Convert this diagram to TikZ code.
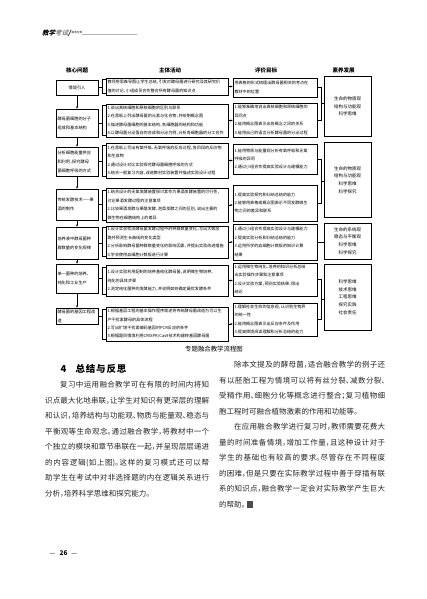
\documentclass[tikz,border=0pt]{standalone}
\usepackage{fontspec}
\usepackage{xcolor}
\setmainfont{Noto Sans CJK SC}[RawFeature=+halt]
\newfontfamily\slantfont{Noto Sans CJK SC}[FakeSlant=0.25]
\usepackage{tikz}
\usetikzlibrary{arrows.meta, shadows, calc}
\XeTeXlinebreaklocale "zh"
\XeTeXlinebreakskip = 0pt plus 1pt
\newcommand\tightcjk{\XeTeXlinebreakskip=0pt\relax}
\tikzset{
    boxshadow/.style={drop shadow={shadow xshift=0.7pt, shadow yshift=-0.7pt,
                 opacity=1, fill=black!70}},
    coltitle/.style={font=\fontsize{5.5}{6}\selectfont\bfseries, inner sep=0pt},
    corebox/.style={rectangle, draw=black, line width=0.5pt, fill=white,
                 boxshadow, text width=39pt, inner sep=1.5pt, align=left,
                 font=\fontsize{4.2}{9}\selectfont\tightcjk},
    actbox/.style={rectangle, draw=black, line width=0.5pt, fill=white,
                 boxshadow, text width=119pt, inner sep=1.5pt, align=left,
                 font=\fontsize{4.1}{8.4}\selectfont\tightcjk},
    evalbox/.style={rectangle, draw=black, line width=0.5pt, fill=white,
                 boxshadow, text width=81pt, inner sep=1.5pt, align=left,
                 font=\fontsize{4.1}{8.4}\selectfont\tightcjk},
    litbox/.style={rectangle, draw=black, line width=0.5pt, fill=white,
                 boxshadow, text width=44pt, inner sep=1.5pt, align=center,
                 font=\fontsize{4.5}{7.7}\selectfont\tightcjk},
    bodytext/.style={text width=164pt, align=justify, inner sep=0pt,
                 anchor=north west, text=black!85,
                 font=\fontsize{7.5}{15.5}\selectfont},
    arr/.style={-{Stealth[length=2.4pt,width=2pt]}, line width=0.5pt},
    link/.style={line width=0.5pt},
    hdrule/.style={line width=1.5pt, draw=black!30}
}

\begin{document}
\begin{tikzpicture}[x=1pt, y=-1pt]
\fill[white] (0,0) rectangle (427,599);
\useasboundingbox (0,0) rectangle (427,599);

% ── Running head ──────────────────────────────────────────────────────
\node[anchor=west, inner sep=0pt, font=\slantfont\fontsize{6.5}{7}\selectfont\bfseries]
     at (42,33) (hdr) {教学{\color{black!45}考试}/};
\node[anchor=west, inner sep=0pt, font=\fontsize{2.6}{3}\selectfont]
     at ([xshift=0.6pt]hdr.east) (hdrsub) {高考生物};
\draw[hdrule] ([yshift=-1.5pt]hdrsub.east) -- ++(55,0);

% ── Column titles ─────────────────────────────────────────────────────
\node[coltitle] at (77,70)    (t1) {核心问题};
\node[coltitle] at (170,70)   (t2) {主体活动};
\node[coltitle] at (266,70)   (t3) {评价目标};
\node[coltitle] at (343.5,70) (t4) {素养发展};

% ── Core questions ────────────────────────────────────────────────────
\node[corebox, align=center, minimum height=15] at (77,87.5) (core1) {情境引入};
\node[corebox, minimum height=28] at (77,123)   (core2) {酵母菌细胞的分子\\组成和基本结构};
\node[corebox, minimum height=29] at (77,161.5) (core3) {分析细胞能量供应\\和利用，探究酵母\\菌细胞呼吸的方式};
\node[corebox, minimum height=31] at (77,204.5) (core4) {传统发酵技术——果\\酒的制作};
\node[corebox, minimum height=32] at (77,243)   (core5) {培养液中酵母菌种\\群数量的变化规律};
\node[corebox, minimum height=29] at (77,278.5) (core6) {单一菌种的培养、\\纯化和工业生产};
\node[corebox, minimum height=16] at (77,316)   (core7) {酵母菌的基因工程改\\造};

% ── Main activities ───────────────────────────────────────────────────
\node[actbox, minimum height=17] at (167,86.5) (act1)
  {教师用思维导图让学生总结，引发对酵母菌进行研究及其研究价\\值的讨论，小组成员合作整合所有酵母菌的知识点};
\node[actbox, minimum height=33] at (167,120.5) (act2)
  {1.说出真核细胞和原核细胞的区别与联系\\
   2.在黑板上列出酵母菌的元素与化合物，并绘制概念图\\
   3.描述酵母菌细胞的基本结构，各细胞器的结构和功能\\
   4.以酵母菌分泌蛋白的合成和分泌为例，分析各细胞器的分工合作};
\node[actbox, minimum height=35] at (167,160.5) (act3)
  {1.在黑板上写出有氧呼吸、无氧呼吸的反应过程，各阶段的反应物\\和生成物\\
   2.通过设计对比实验探究酵母菌细胞呼吸的方式\\
   3.结合一般复习内容，改进教材实验装置并描述实验设计过程};
\node[actbox, minimum height=34] at (167,205) (act4)
  {1.结合设计的无氧发酵装置探讨其作为果酒发酵装置的可行性，\\讨论果酒发酵过程的注意事项\\
   2.比较果酒发酵与果醋发酵、泡菜发酵之间的区别，说出主要的\\微生物在细胞结构上的差异};
\node[actbox, minimum height=32] at (167,242) (act5)
  {1.设计实验检测酵母菌发酵过程中的种群数量变化，写出大致思\\路并预测生长曲线的变化类型\\
   2.分析影响酵母菌种群数量变化的影响因素，并提出实验改进措施\\
   3.学会使用血细胞计数板进行计算};
\node[actbox, minimum height=31] at (167,280.5) (act6)
  {1.设计实验利用配制的培养基纯化酵母菌，说明微生物培养、\\纯化的具体步骤\\
   2.测定纯化菌种的发酵能力，并说明如何确定最优发酵条件};
\node[actbox, minimum height=34] at (167,324) (act7)
  {1.根据基因工程的基本操作程序简述将传统酵母菌改造为可以生\\产干扰素酵母的具体流程\\
   2.写出扩增干扰素编码基因时PCR反应的条件\\
   3.根据题目情境利用CRISPR/Cas9技术构建转基因酵母菌};

% ── Evaluation goals ──────────────────────────────────────────────────
\node[evalbox, minimum height=19] at (275,87.5) (eval1)
  {用表格的形式梳理出酵母菌相关的考点在\\教材中的位置};
\node[evalbox, minimum height=34] at (275,120) (eval2)
  {1.能够准确地说出真核细胞和原核细胞的\\异同点\\
   2.能用概念图表示出各概念之间的关系\\
   3.能用自己的语言分析酵母菌的分泌过程};
\node[evalbox, minimum height=30] at (275,159) (eval3)
  {1.能用物质与能量观分析有氧呼吸和无氧\\呼吸的异同\\
   2.通过小组合作提高实验设计与建模能力};
\node[evalbox, minimum height=36] at (275,203) (eval4)
  {1.提高实验探究和归纳总结的能力\\
   2.能够用表格或概念图表示不同发酵微生\\物之间的差异和联系};
\node[evalbox, minimum height=36] at (275,242) (eval5)
  {1.通过小组合作提高实验设计与建模能力\\
   2.提高实验分析和归纳总结的能力\\
   3.运用所学的血细胞计数板的知识计算\\结果};
\node[evalbox, minimum height=33] at (275,279.5) (eval6)
  {1.运用微生物纯化、培养的知识分析总结\\出实验操作步骤和注意事项\\
   2.设计实验方案，预测实验结果，得出\\结论};
\node[evalbox, minimum height=33] at (275,319.5) (eval7)
  {1.理解社会生命的信息观，认识到生物界\\的统一性\\
   2.能用概念图表示出反应条件及作用\\
   3.提高情境阅读理解和分析总结的能力};

% ── Literacy ──────────────────────────────────────────────────────────
\node[litbox, minimum height=60] at (347.5,106.5) (litA) {生命的物质观\\结构与功能观\\科学思维};
\node[litbox, minimum height=75] at (347.5,180)   (litB) {生命的物质观\\结构与功能观\\科学思维\\科学探究};
\node[litbox, minimum height=36] at (347.5,241)   (litC) {生命的系统观\\稳态与平衡观\\科学思维\\科学探究};
\node[litbox, minimum height=66] at (347.5,297)   (litD) {科学思维\\技术思维\\工程思维\\探究实践\\社会责任};

% ── Core chain (down) ─────────────────────────────────────────────────
\draw[arr] (core1.south) -- (core2.north);
\draw[arr] (core2.south) -- (core3.north);
\draw[arr] (core3.south) -- (core4.north);
\draw[arr] (core4.south) -- (core5.north);
\draw[arr] (core5.south) -- (core6.north);
\draw[arr] (core6.south) -- (core7.north);

% ── Core → activity brackets ──────────────────────────────────────────
\draw[link] (core1.east) -- ([xshift=-4pt]act1.west |- core1.east);
\draw[link] ([yshift=-2pt]act1.north west) -- ++(-4,0) |- ([yshift=2pt]act1.south west);
\draw[link] (core2.east) -- ([xshift=-4pt]act2.west |- core2.east);
\draw[link] ([yshift=-2pt]act2.north west) -- ++(-4,0) |- ([yshift=2pt]act2.south west);
\draw[link] (core3.east) -- ([xshift=-4pt]act3.west |- core3.east);
\draw[link] ([yshift=-2pt]act3.north west) -- ++(-4,0) |- ([yshift=2pt]act3.south west);
\draw[link] (core4.east) -- ([xshift=-4pt]act4.west |- core4.east);
\draw[link] ([yshift=-2pt]act4.north west) -- ++(-4,0) |- ([yshift=2pt]act4.south west);
\draw[link] (core5.east) -- ([xshift=-4pt]act5.west |- core5.east);
\draw[link] ([yshift=-2pt]act5.north west) -- ++(-4,0) |- ([yshift=2pt]act5.south west);
\draw[link] (core6.east) -- ([xshift=-4pt]act6.west |- core6.east);
\draw[link] ([yshift=-2pt]act6.north west) -- ++(-4,0) |- ([yshift=2pt]act6.south west);
\draw[link] (core7.east) -- ([xshift=-4pt]act7.west |- core7.east);
\draw[link] ([yshift=-2pt]act7.north west) -- ++(-4,0) |- ([yshift=2pt]act7.south west);

% ── Activity → evaluation ─────────────────────────────────────────────
\draw[arr] (act1.east) -- (act1.east -| eval1.west);
\draw[arr] (act2.east) -- (act2.east -| eval2.west);
\draw[arr] (act3.east) -- (act3.east -| eval3.west);
\draw[arr] (act4.east) -- (act4.east -| eval4.west);
\draw[arr] (act5.east) -- (act5.east -| eval5.west);
\draw[arr] (act6.east) -- (act6.east -| eval6.west);
\draw[arr] (act7.east) -- (act7.east -| eval7.west);

% ── Evaluation → literacy ─────────────────────────────────────────────
\coordinate (jA) at ($(eval1.east)!.5!(eval2.east)+(4,0)$);
\coordinate (jB) at ($(eval3.east)!.5!(eval4.east)+(4,0)$);
\coordinate (jD) at ($(eval6.east)!.5!(eval7.east)+(4,0)$);
\draw[link] (eval1.east) -- ++(4,0) |- (eval2.east);
\draw[link] (jA) -- (jA -| litA.west);
\draw[link] (eval3.east) -- ++(4,0) |- (eval4.east);
\draw[link] (jB) -- (jB -| litB.west);
\draw[link] (eval5.east) -- (eval5.east -| litC.west);
\draw[link] (eval6.east) -- ++(4,0) |- (eval7.east);
\draw[link] (jD) -- (jD -| litD.west);

% ── Caption and section ───────────────────────────────────────────────
\node[font=\fontsize{6.4}{7}\selectfont, inner sep=0pt] at (214,349) (cap) {专题融合教学流程图};
\node[font=\fontsize{9.5}{10}\selectfont\bfseries, inner sep=0pt] at (63.5,369) (secno) {4};
\node[font=\fontsize{9.5}{10}\selectfont\bfseries, inner sep=0pt] at (101,369) (sec)
  {总\hspace{0.8pt}结\hspace{0.8pt}与\hspace{0.8pt}反\hspace{0.8pt}思};

% ── Body text ─────────────────────────────────────────────────────────
\node[bodytext] at (45,381.3) (colL)
  {\hspace*{2em}复习中运用融合教学可在有限的时间内将知\linebreak
   识点最大化地串联，让学生对知识有更深层的理解\linebreak
   和认识，培养结构与功能观、物质与能量观、稳态与\linebreak
   平衡观等生命观念。通过融合教学，将教材中一个\linebreak
   个独立的模块和章节串联在一起，并呈现层层递进\linebreak
   的内容逻辑(如上图)。这样的复习模式还可以帮\linebreak
   助学生在考试中对非选择题的内在逻辑关系进行\linebreak
   分析，培养科学思维和探究能力。};
\node[bodytext, text width=166pt] at (219,361.3) (colR)
  {\hspace*{2em}除本文提及的酵母菌，适合融合教学的例子还\linebreak
   有以胚胎工程为情境可以将有丝分裂、减数分裂、\linebreak
   受精作用、细胞分化等概念进行整合；复习植物细\linebreak
   胞工程时可融合植物激素的作用和功能等。\par
   \hspace*{2em}在应用融合教学进行复习时，教师需要花费大\linebreak
   量的时间准备情境，增加工作量，且这种设计对于\linebreak
   学生的基础也有较高的要求。尽管存在不同程度\linebreak
   的困难，但是只要在实际教学过程中善于穿插有联\linebreak
   系的知识点，融合教学一定会对实际教学产生巨大\linebreak
   的帮助。\,{\color{black!70}\rule[-0.6pt]{6pt}{6.5pt}}};

% ── Folio ─────────────────────────────────────────────────────────────
\node[font=\fontsize{6.5}{7}\selectfont, inner sep=0pt] at (63.5,553) (folio)
  {—\hspace{4pt}\textbf{26}\hspace{4pt}—};
\end{tikzpicture}
\end{document}
